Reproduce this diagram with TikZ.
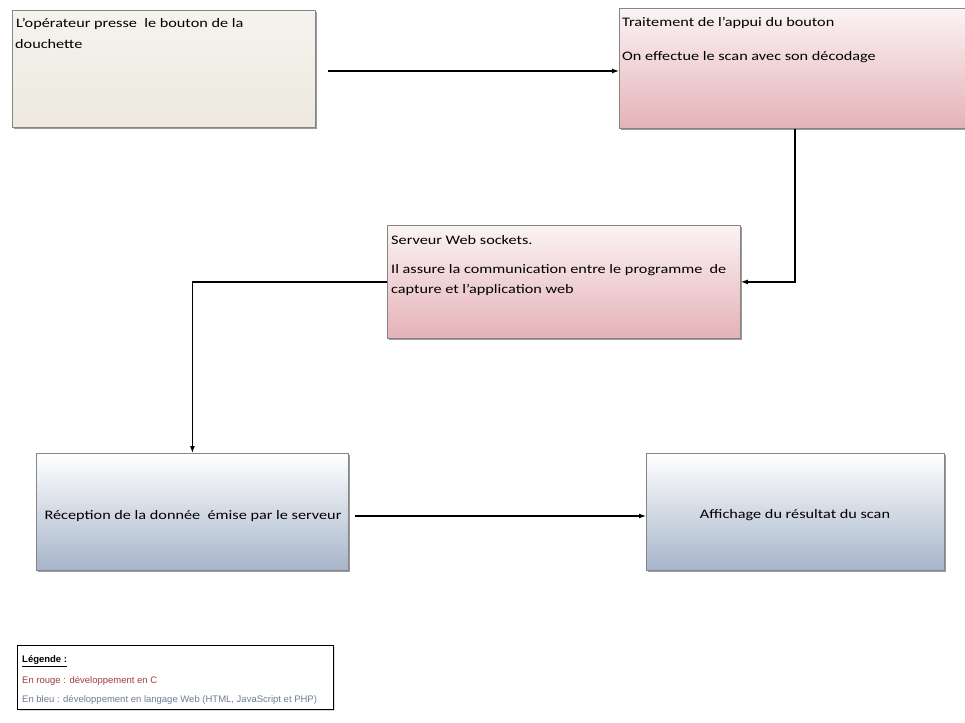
\documentclass[tikz,border=0pt]{standalone}
\usepackage{fontspec}
\setmainfont{Carlito}
\newfontfamily\legfont{Liberation Sans}
\usetikzlibrary{shadows,arrows.meta}
\definecolor{bord}{HTML}{858585}
\definecolor{beigeT}{HTML}{F5F3EE}
\definecolor{beigeB}{HTML}{EDE9DF}
\definecolor{pinkT}{HTML}{FBF3F3}
\definecolor{pinkB}{HTML}{E4B2B7}
\definecolor{blueT}{HTML}{FFFFFF}
\definecolor{blueB}{HTML}{A6B4CA}
\definecolor{legred}{HTML}{A23C44}
\definecolor{legblue}{HTML}{6E7C9A}
\newcommand{\wide}[1]{\scalebox{1.25}[1]{#1}}
\tikzset{
  boxbase/.style={draw=bord, line width=0.8pt, rectangle, inner sep=0pt, anchor=north west,
    drop shadow={shadow xshift=1.5pt, shadow yshift=-2pt, fill=black!55, opacity=0.7}},
  beigebox/.style={boxbase, top color=beigeT, bottom color=beigeB},
  pinkbox/.style={boxbase, top color=pinkT, bottom color=pinkB},
  bluebox/.style={boxbase, top color=blueT, bottom color=blueB},
  txt/.style={font=\fontsize{13}{15}\selectfont, inner sep=0pt, anchor=west, text=black},
  arr/.style={line width=1.2pt, -{Latex[length=7pt,width=5pt]}},
  legbox/.style={draw=black, line width=1.3pt, fill=white, anchor=north west, inner sep=0pt,
    drop shadow={shadow xshift=1.5pt, shadow yshift=-1.5pt, fill=black!30}},
  legtxt/.style={font=\legfont\fontsize{9.5}{11}\selectfont, inner sep=0pt, anchor=west}
}
\begin{document}
\begin{tikzpicture}[x=1pt,y=-1pt]
\useasboundingbox (0,0) rectangle (965,722);
\clip (0,0) rectangle (965,722);
\fill[white] (0,0) rectangle (965,722);
% boxes
\node[beigebox, minimum width=303pt, minimum height=117pt] (b1) at (12,10) {};
\node[pinkbox, minimum width=360pt, minimum height=120pt] (b2) at (619,8) {};
\node[pinkbox, minimum width=353pt, minimum height=113pt] (b3) at (387,225) {};
\node[bluebox, minimum width=312pt, minimum height=117pt] (b4) at (36,453) {};
\node[bluebox, minimum width=298pt, minimum height=117pt] (b5) at (646,453) {};
% texts
\node[txt] (t1a) at (16,24) {\wide{L’opérateur presse\ \ le bouton de la}};
\node[txt] (t1b) at (15,44) {\wide{douchette}};
\node[txt] (t2a) at (622,23) {\wide{Traitement de l’appui du bouton}};
\node[txt] (t2b) at (622,57) {\wide{On effectue le scan avec son décodage}};
\node[txt] (t3a) at (391,240) {\wide{Serveur Web sockets.}};
\node[txt] (t3b) at (391,270) {\wide{Il assure la communication entre le programme\ \ de}};
\node[txt] (t3c) at (391,290) {\wide{capture et l’application web}};
\node[txt, anchor=center] (t4) at (193,516) {\wide{Réception de la donnée\ \ émise par le serveur}};
\node[txt, anchor=center] (t5) at (795,515) {\wide{Affichage du résultat du scan}};
% connectors
\coordinate (s1) at (328,71);
\coordinate (s2) at (355,516);
\coordinate (c1) at (795,283);
\draw[arr] (s1) -- (s1 -| b2.west);
\draw[arr] (b2.south -| c1) |- (b3.east);
\draw[arr] (b3.west) -| (b4.north);
\draw[arr] (s2) -- (s2 -| b5.west);
% legend
\node[legbox, minimum width=316pt, minimum height=64pt] (leg) at (17,645) {};
\node[legtxt] (l1) at (22,661) {\textbf{\underline{Légende :}}};
\node[legtxt, text=legred] (l2) at (22,681) {En rouge : développement en C};
\node[legtxt, text=legblue] (l3) at (22,700) {En bleu : développement en langage Web (HTML, JavaScript et PHP)};
\end{tikzpicture}
\end{document}
